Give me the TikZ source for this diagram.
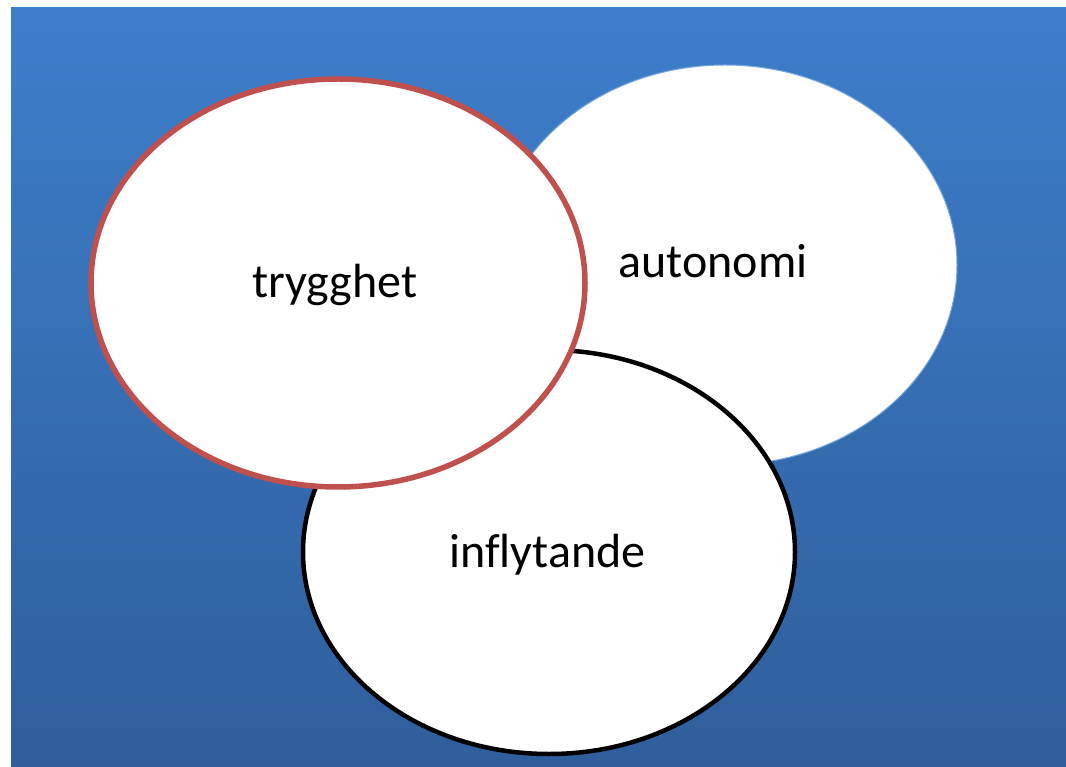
\documentclass[tikz,border=0pt]{standalone}
\usepackage{fontspec}
\setmainfont[Ligatures={NoCommon}]{Carlito}
\begin{document}
\begin{tikzpicture}[x=1pt,y=-1pt,
  bubble/.style={fill=white},
  label/.style={anchor=base,inner sep=0pt,font=\fontsize{48}{56}\selectfont}]
\useasboundingbox (0,0) rectangle (1066,767);
\fill[white] (0,0) rectangle (1066,767);
% blue gradient backdrop
\shade[top color={rgb,255:red,61;green,126;blue,203},
       bottom color={rgb,255:red,47;green,94;blue,155}]
  (11,8) rectangle (1066,767);
% circles, back to front
\fill[bubble, draw={rgb,255:red,120;green,165;blue,220}, line width=1pt]
  (725,265) ellipse [x radius=232, y radius=200];
\filldraw[bubble, draw=black, line width=4.5pt]
  (549,552) ellipse [x radius=246, y radius=202];
\filldraw[bubble, draw={rgb,255:red,192;green,80;blue,77}, line width=5.5pt]
  (338,283) ellipse [x radius=247, y radius=204];
% labels
\node[label] (t) at (335,298) {trygghet};
\node[label] (a) at (713,278) {autonomi};
\node[label] (i) at (547.5,567) {inflytande};
\end{tikzpicture}
\end{document}
